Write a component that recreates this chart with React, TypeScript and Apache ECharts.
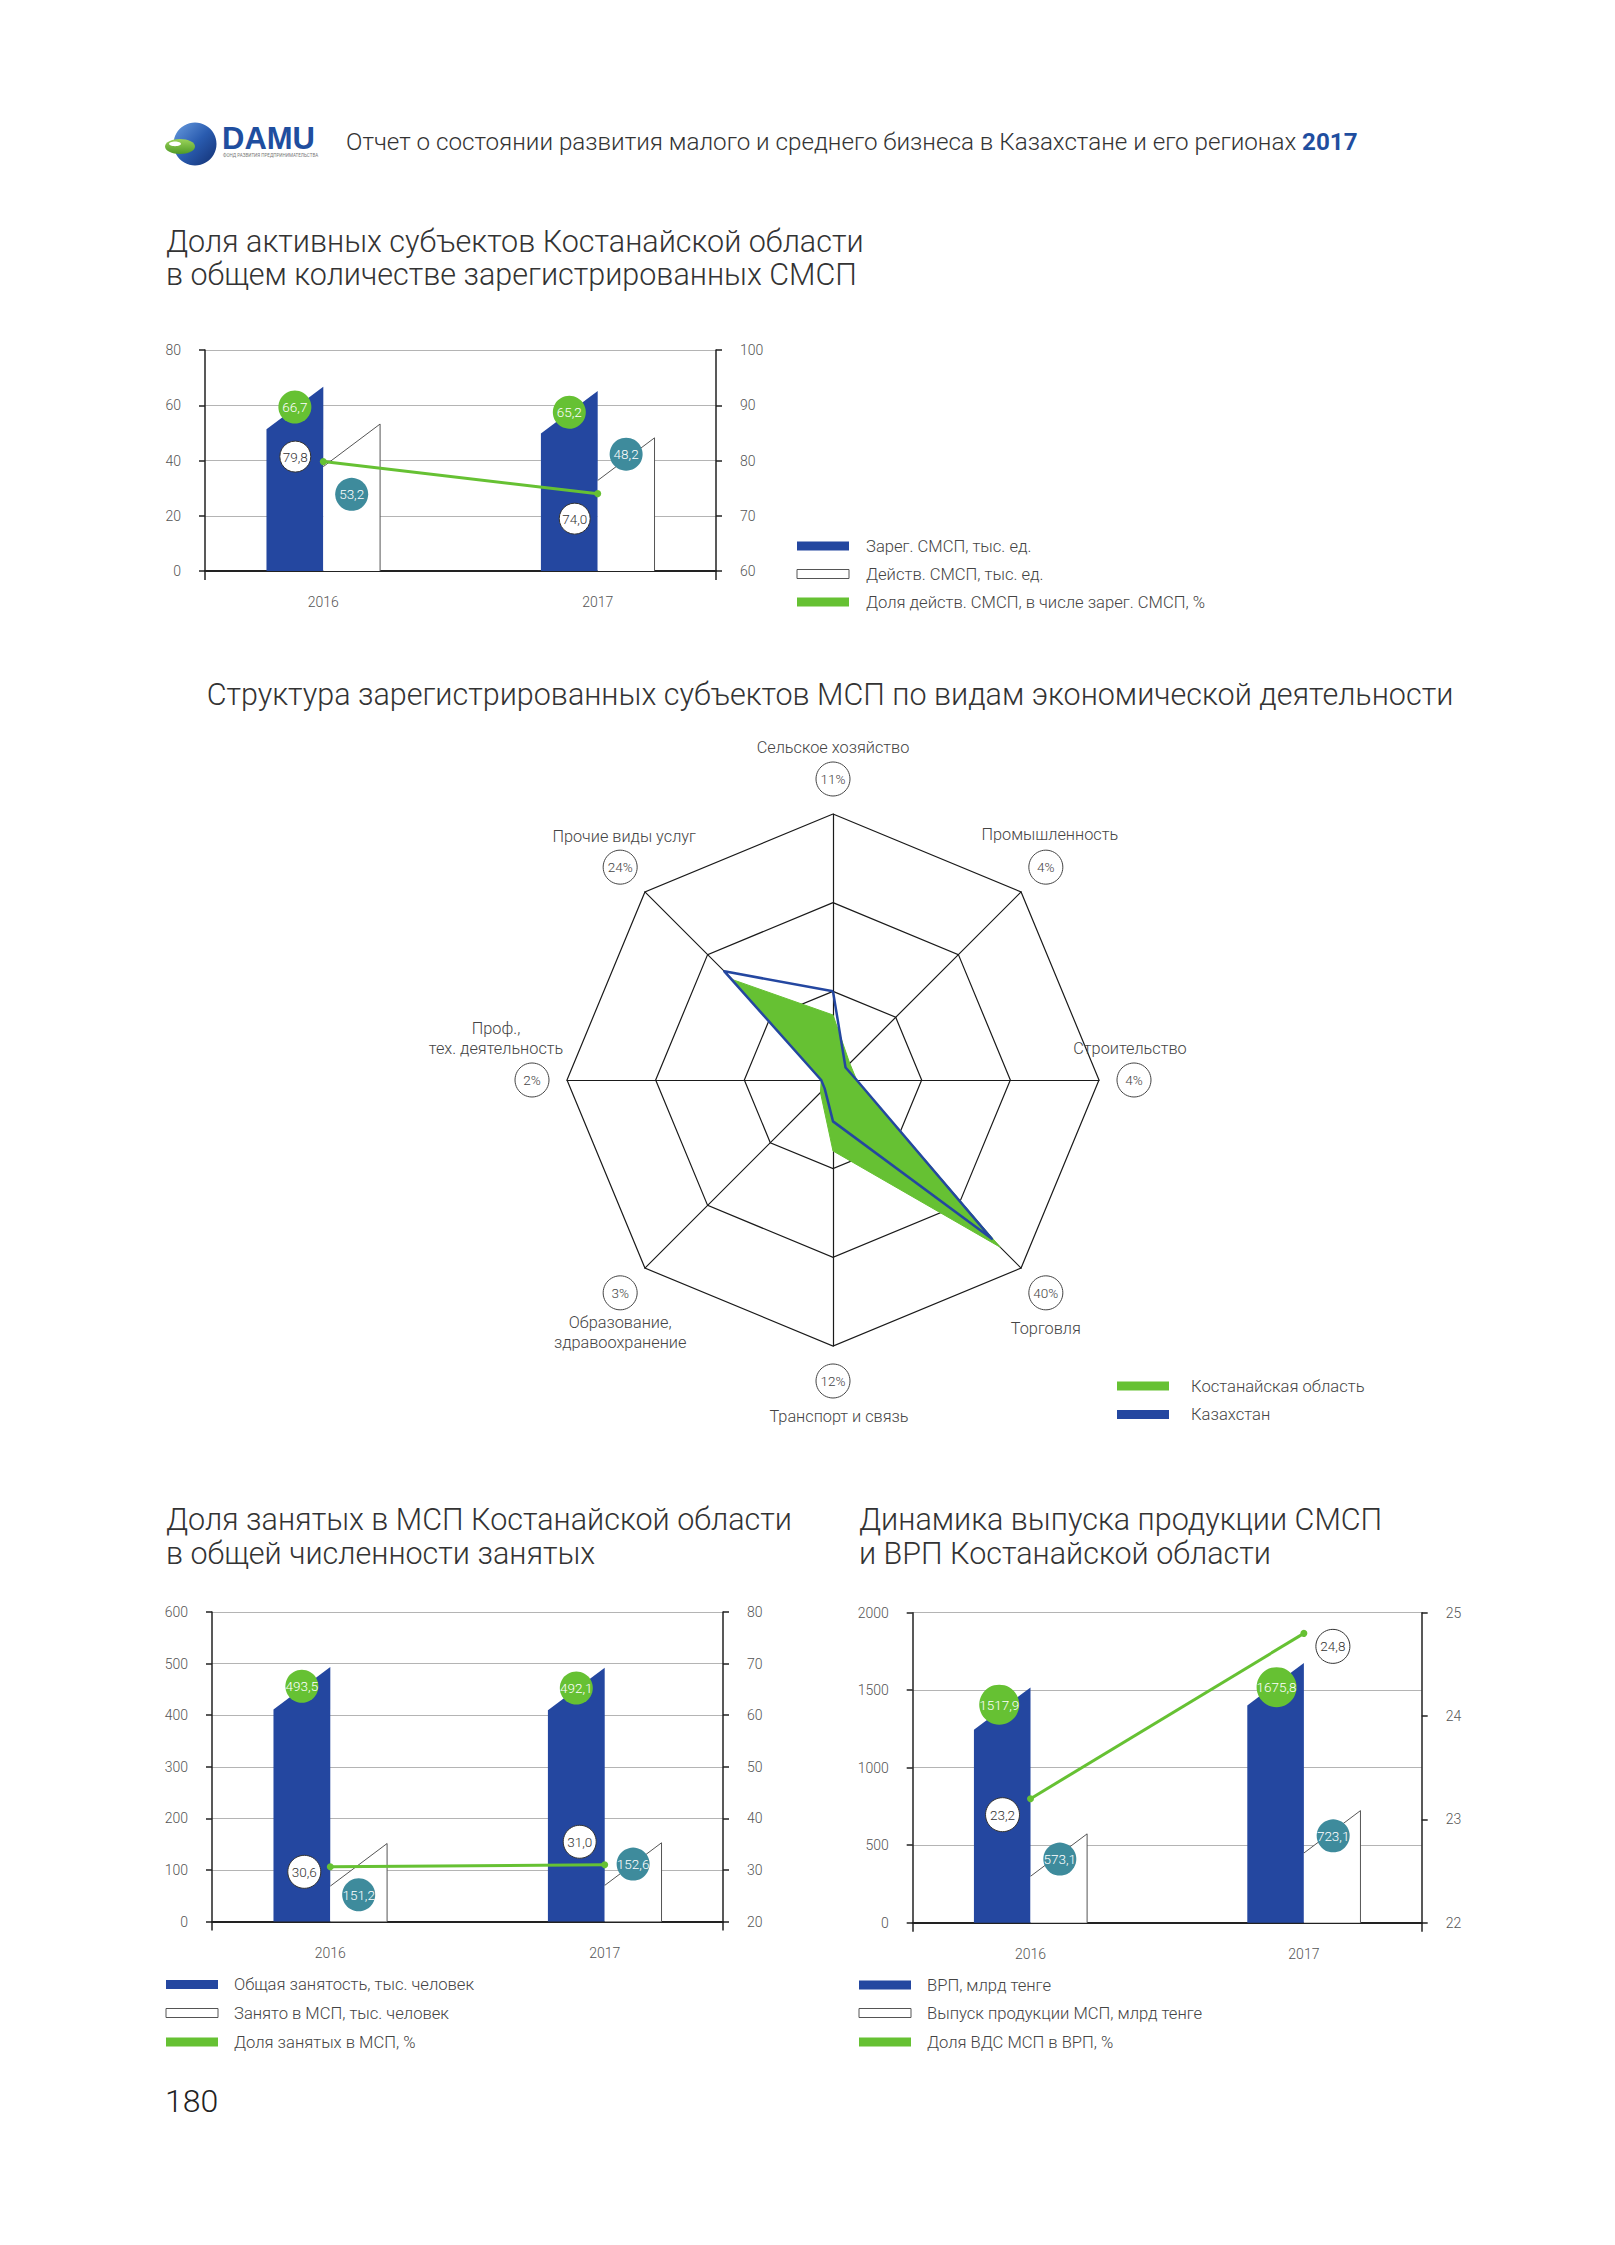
import React, { useEffect, useRef } from 'react';
import * as echarts from 'echarts';

// ---------- DATA ----------
const YEARS = ['2016', '2017'];

// Chart 1: Доля активных субъектов
const C1_REGISTERED = [66.7, 65.2]; // тыс. ед.
const C1_ACTIVE = [53.2, 48.2]; // тыс. ед.
const C1_SHARE = [79.8, 74.0]; // %
const C1_LEGEND = ['Зарег. СМСП, тыс. ед.', 'Действ. СМСП, тыс. ед.', 'Доля действ. СМСП, в числе зарег. СМСП, %'];

// Radar: структура по видам деятельности (clockwise from top)
const SECTORS = [
  'Сельское хозяйство',
  'Промышленность',
  'Строительство',
  'Торговля',
  'Транспорт и связь',
  'Образование,\nздравоохранение',
  'Проф.,\nтех. деятельность',
  'Прочие виды услуг',
];
const KOSTANAY = [11, 4, 4, 40, 12, 3, 2, 24];
const KAZAKHSTAN = [15, 3, 4, 38, 7, 2, 2, 26];
const RADAR_MAX = 45;
const RADAR_LEGEND = ['Костанайская область', 'Казахстан'];

// Chart 3: занятость
const C3_TOTAL = [493.5, 492.1];
const C3_SME = [151.2, 152.6];
const C3_SHARE = [30.6, 31.0];
const C3_LEGEND = ['Общая занятость, тыс. человек', 'Занято в МСП, тыс. человек', 'Доля занятых в МСП, %'];

// Chart 4: ВРП
const C4_GRP = [1517.9, 1675.8];
const C4_OUTPUT = [573.1, 723.1];
const C4_SHARE = [23.2, 24.8];
const C4_LEGEND = ['ВРП, млрд тенге', 'Выпуск продукции МСП, млрд тенге', 'Доля ВДС МСП в ВРП, %'];

// ---------- STYLE / LAYOUT ----------
const BLUE = '#2447a0';
const GREEN = '#66c133';
const TEAL = '#3e8b9c';
const GRID_GRAY = '#b4b4b4';
const AXIS_DARK = '#222222';
const TEXT = '#3a3a3a';
const FONT = 'Roboto';
const X_PAD = 0.431;
const BAR_FRAC = 0.207;
const SLANT = 0.75;
const TITLE_SIZE = 30.5;

// label offsets (px) relative to their anchors
const OFF = {
  c1: { top: [[0, -1], [0, 0]], white: [[0, 49], [0, -5]], line: [[-28, -5], [-23, 25]] },
  c3: { top: [[0, -2], [0, -1]], white: [[0, 30], [0, 0]], line: [[-26, 5], [-25, -23]] },
  c4: { top: [[-3, -4], [1, 3]], white: [[1, 4], [1, 4]], line: [[-28, 16], [29, 13]] },
};

const fmt = (v: number) => v.toFixed(1).replace('.', ',');

function barSeries(xi: number, yi: number, values: number[], side: 'left' | 'right') {
  return {
    type: 'custom',
    xAxisIndex: xi,
    yAxisIndex: yi,
    z: 2,
    encode: { x: 0, y: 1 },
    data: values.map((v, i) => [i, v]),
    renderItem: (params: any, api: any) => {
      const top = api.coord([api.value(0), api.value(1)]);
      const base = api.coord([api.value(0), 0]);
      const w = api.size([1, 0])[0] * BAR_FRAC;
      const s = w * SLANT;
      const cx = top[0];
      if (side === 'left') {
        return {
          type: 'polygon',
          shape: { points: [[cx - w, base[1]], [cx - w, top[1] + s], [cx, top[1]], [cx, base[1]]] },
          style: { fill: BLUE },
        };
      }
      return {
        type: 'group',
        children: [
          {
            type: 'polygon',
            shape: { points: [[cx, base[1]], [cx, top[1] + s], [cx + w, top[1]], [cx + w, base[1]]] },
            style: { fill: '#ffffff' },
          },
          {
            type: 'polyline',
            shape: { points: [[cx, top[1] + s], [cx + w, top[1]], [cx + w, base[1]]] },
            style: { stroke: '#555555', lineWidth: 1, fill: 'none' },
          },
        ],
      };
    },
  };
}

function labelSeries(
  xi: number,
  yi: number,
  values: number[],
  offsets: number[][],
  anchor: 'left' | 'right' | 'point',
  fill: string,
  color: string,
  r: number,
  stroke?: string
) {
  return {
    type: 'custom',
    xAxisIndex: xi,
    yAxisIndex: yi,
    z: 10,
    encode: { x: 0, y: 1 },
    data: values.map((v, i) => [i, v, offsets[i][0], offsets[i][1]]),
    renderItem: (params: any, api: any) => {
      const p = api.coord([api.value(0), api.value(1)]);
      const w = api.size([1, 0])[0] * BAR_FRAC;
      let ax = p[0];
      let ay = p[1];
      if (anchor === 'left') {
        ax -= w / 2;
        ay += (w * SLANT) / 2;
      } else if (anchor === 'right') {
        ax += w / 2;
        ay += (w * SLANT) / 2;
      }
      ax += api.value(2);
      ay += api.value(3);
      return {
        type: 'group',
        children: [
          {
            type: 'circle',
            shape: { cx: ax, cy: ay, r },
            style: { fill, stroke: stroke || 'none', lineWidth: 1 },
          },
          {
            type: 'text',
            style: {
              text: fmt(api.value(1)),
              x: ax,
              y: ay,
              fill: color,
              fontSize: 13.5,
              fontFamily: FONT,
              fontWeight: 300,
              align: 'center',
              verticalAlign: 'middle',
              textAlign: 'center',
              textVerticalAlign: 'middle',
            },
          },
        ],
      };
    },
  };
}

function lineSeries(xi: number, yi: number, values: number[]) {
  return {
    type: 'line',
    xAxisIndex: xi,
    yAxisIndex: yi,
    z: 5,
    data: values.map((v, i) => [i, v]),
    symbol: 'circle',
    symbolSize: 7,
    lineStyle: { color: GREEN, width: 3 },
    itemStyle: { color: GREEN },
  };
}

const axisLabelBase = { color: '#555', fontSize: 14, fontFamily: FONT, fontWeight: 300 };

function xAxisFor(g: number) {
  return {
    type: 'value',
    gridIndex: g,
    min: -X_PAD,
    max: 1 + X_PAD,
    splitLine: { show: false },
    axisLine: { show: true, onZero: false, lineStyle: { color: AXIS_DARK, width: 2 } },
    axisTick: { show: true, customValues: [-X_PAD, 1 + X_PAD], length: 9, lineStyle: { color: AXIS_DARK, width: 1.5 } },
    axisLabel: { ...axisLabelBase, customValues: [0, 1], margin: 24, formatter: (v: number) => YEARS[Math.round(v)] },
  };
}

function yAxisFor(g: number, pos: 'left' | 'right', min: number, max: number, interval: number) {
  return {
    type: 'value',
    gridIndex: g,
    position: pos,
    min,
    max,
    interval,
    axisLine: { show: true, onZero: false, lineStyle: { color: AXIS_DARK, width: 1.5 } },
    axisTick: { show: true, length: 6, lineStyle: { color: AXIS_DARK, width: 1.5 } },
    splitLine: pos === 'left' ? { show: true, lineStyle: { color: GRID_GRAY, width: 1.2 } } : { show: false },
    axisLabel: { ...axisLabelBase, margin: 24, formatter: (v: number) => String(v) },
  };
}

function txt(text: string, x: number, y: number, size: number, opts: any = {}) {
  return {
    type: 'text',
    x,
    y,
    z: 20,
    style: {
      text,
      fontSize: size,
      fontFamily: FONT,
      fontWeight: 300,
      fill: TEXT,
      textAlign: 'left',
      textVerticalAlign: 'middle',
      align: 'left',
      verticalAlign: 'middle',
      ...opts,
    },
  };
}

function legend(x: number, ys: number[], labels: string[], textX: number, kinds: string[]) {
  const out: any[] = [];
  labels.forEach((l, i) => {
    const k = kinds[i];
    out.push({
      type: 'rect',
      z: 20,
      shape: { x, y: ys[i] - 4.5, width: 52, height: 9 },
      style: k === 'white' ? { fill: '#fff', stroke: '#555', lineWidth: 1 } : { fill: k === 'blue' ? BLUE : GREEN },
    });
    out.push(txt(l, textX, ys[i], 16.6, { fill: '#444' }));
  });
  return out;
}

const EC_ORDER = [0, 7, 6, 5, 4, 3, 2, 1];
const RADAR_C = [833, 1080];
const RADAR_R = 266;
const RADAR_LABEL_R = 301;
const NAME_OFF = [[0, -32], [4, -33], [-4, -32], [0, 36], [6, 35], [0, 40], [-36, -42], [4, -31]];

function radarLabels() {
  const out: any[] = [];
  SECTORS.forEach((name, i) => {
    const a = ((90 - 45 * i) * Math.PI) / 180;
    const cx = RADAR_C[0] + RADAR_LABEL_R * Math.cos(a);
    const cy = RADAR_C[1] - RADAR_LABEL_R * Math.sin(a);
    out.push({
      type: 'circle',
      z: 20,
      shape: { cx, cy, r: 17 },
      style: { fill: '#fff', stroke: '#444', lineWidth: 1 },
    });
    out.push(txt(KOSTANAY[i] + '%', cx, cy, 13.5, { textAlign: 'center', align: 'center', fill: '#444' }));
    out.push(
      txt(name, cx + NAME_OFF[i][0], cy + NAME_OFF[i][1], 16.3, {
        textAlign: 'center',
        align: 'center',
        lineHeight: 20,
        fill: '#444',
      })
    );
  });
  return out;
}

function logo() {
  return [
    {
      type: 'circle',
      z: 20,
      shape: { cx: 195, cy: 144, r: 21.5 },
      style: {
        fill: new echarts.graphic.LinearGradient(0, 0, 1, 1, [
          { offset: 0, color: '#6b9ee0' },
          { offset: 0.5, color: '#2a5cb0' },
          { offset: 1, color: '#122f72' },
        ]),
      },
    },
    {
      type: 'ellipse',
      z: 21,
      shape: { cx: 180, cy: 146.5, rx: 15, ry: 7.5 },
      style: {
        fill: new echarts.graphic.LinearGradient(0, 0, 0, 1, [
          { offset: 0, color: '#9bd35a' },
          { offset: 1, color: '#4f9a26' },
        ]),
      },
    },
    { type: 'ellipse', z: 22, shape: { cx: 175, cy: 143.8, rx: 6, ry: 2.4 }, style: { fill: '#ffffff' } },
    txt('DAMU', 222, 138, 31, { fontWeight: 'bold', fill: '#1f4e9f', fontFamily: 'Liberation Sans' }),
    txt('ФОНД РАЗВИТИЯ ПРЕДПРИНИМАТЕЛЬСТВА', 223, 155, 4.5, { fill: '#777', fontWeight: 400 }),
  ];
}

function buildOption() {
  const graphic: any[] = [
    ...logo(),
    {
      type: 'text',
      x: 346,
      y: 142,
      z: 20,
      style: {
        text: '{a|Отчет о состоянии развития малого и среднего бизнеса в Казахстане и его регионах\u00a0}{b|2017}',
        textVerticalAlign: 'middle',
        verticalAlign: 'middle',
        rich: {
          a: { fontSize: 24.2, fontFamily: FONT, fontWeight: 300, fill: '#333', color: '#333' },
          b: { fontSize: 24.2, fontFamily: FONT, fontWeight: 'bold', fill: '#1f4e9f', color: '#1f4e9f' },
        },
      },
    },
    txt('Доля активных субъектов Костанайской области', 166, 241, TITLE_SIZE, { fill: '#333' }),
    txt('в общем количестве зарегистрированных СМСП', 166, 274, TITLE_SIZE, { fill: '#333' }),
    txt('Структура зарегистрированных субъектов МСП по видам экономической деятельности', 830, 694, TITLE_SIZE, {
      fill: '#333',
      textAlign: 'center',
      align: 'center',
    }),
    txt('Доля занятых в МСП Костанайской области', 166, 1519, TITLE_SIZE, { fill: '#333' }),
    txt('в общей численности занятых', 166, 1553, TITLE_SIZE, { fill: '#333' }),
    txt('Динамика выпуска продукции СМСП', 859, 1519, TITLE_SIZE, { fill: '#333' }),
    txt('и ВРП Костанайской области', 859, 1553, TITLE_SIZE, { fill: '#333' }),
    txt('180', 165, 2101, 32, { fill: '#222' }),
    ...legend(797, [546, 574, 602], C1_LEGEND, 866, ['blue', 'white', 'green']),
    ...legend(1117, [1386, 1414.5], RADAR_LEGEND, 1191, ['green', 'blue']),
    ...legend(166, [1984.5, 2013, 2042], C3_LEGEND, 234, ['blue', 'white', 'green']),
    ...legend(859, [1985, 2013, 2042], C4_LEGEND, 927, ['blue', 'white', 'green']),
    ...radarLabels(),
  ];

  return {
    animation: false,
    backgroundColor: '#ffffff',
    textStyle: { fontFamily: FONT },
    grid: [
      { left: 205, top: 350, width: 511, height: 221, outerBoundsMode: 'none' },
      { left: 212, top: 1612, width: 511, height: 309.5, outerBoundsMode: 'none' },
      { left: 912.7, top: 1612.7, width: 509, height: 310, outerBoundsMode: 'none' },
    ],
    xAxis: [xAxisFor(0), xAxisFor(1), xAxisFor(2)],
    yAxis: [
      yAxisFor(0, 'left', 0, 80, 20),
      yAxisFor(0, 'right', 60, 100, 10),
      yAxisFor(1, 'left', 0, 600, 100),
      yAxisFor(1, 'right', 20, 80, 10),
      yAxisFor(2, 'left', 0, 2000, 500),
      yAxisFor(2, 'right', 22, 25, 1),
    ],
    radar: {
      center: RADAR_C,
      radius: RADAR_R,
      startAngle: 90,
      splitNumber: 3,
      shape: 'polygon',
      indicator: EC_ORDER.map((i) => ({ name: SECTORS[i], max: RADAR_MAX })),
      axisName: { show: false },
      axisLine: { lineStyle: { color: '#1a1a1a', width: 1.2 } },
      splitLine: { lineStyle: { color: '#1a1a1a', width: 1.2 } },
      splitArea: { show: false },
    },
    series: [
      // chart 1
      barSeries(0, 0, C1_REGISTERED, 'left'),
      barSeries(0, 0, C1_ACTIVE, 'right'),
      lineSeries(0, 1, C1_SHARE),
      labelSeries(0, 0, C1_REGISTERED, OFF.c1.top, 'left', GREEN, '#fff', 16.5),
      labelSeries(0, 0, C1_ACTIVE, OFF.c1.white, 'right', TEAL, '#fff', 16.5),
      labelSeries(0, 1, C1_SHARE, OFF.c1.line, 'point', '#fff', '#333', 15.5, '#333'),
      // radar
      {
        type: 'radar',
        symbol: 'none',
        z: 3,
        data: [
          {
            name: RADAR_LEGEND[0],
            value: EC_ORDER.map((i) => KOSTANAY[i]),
            lineStyle: { color: GREEN, width: 1 },
            areaStyle: { color: GREEN, opacity: 1 },
          },
          {
            name: RADAR_LEGEND[1],
            value: EC_ORDER.map((i) => KAZAKHSTAN[i]),
            lineStyle: { color: BLUE, width: 2.5 },
          },
        ],
      },
      // chart 3
      barSeries(1, 2, C3_TOTAL, 'left'),
      barSeries(1, 2, C3_SME, 'right'),
      lineSeries(1, 3, C3_SHARE),
      labelSeries(1, 2, C3_TOTAL, OFF.c3.top, 'left', GREEN, '#fff', 16.5),
      labelSeries(1, 2, C3_SME, OFF.c3.white, 'right', TEAL, '#fff', 16.5),
      labelSeries(1, 3, C3_SHARE, OFF.c3.line, 'point', '#fff', '#333', 16.5, '#333'),
      // chart 4
      barSeries(2, 4, C4_GRP, 'left'),
      barSeries(2, 4, C4_OUTPUT, 'right'),
      lineSeries(2, 5, C4_SHARE),
      labelSeries(2, 4, C4_GRP, OFF.c4.top, 'left', GREEN, '#fff', 20),
      labelSeries(2, 4, C4_OUTPUT, OFF.c4.white, 'right', TEAL, '#fff', 16.5),
      labelSeries(2, 5, C4_SHARE, OFF.c4.line, 'point', '#fff', '#333', 17, '#333'),
    ],
    graphic: { elements: graphic },
  };
}

export default function App() {
  const ref = useRef<HTMLDivElement>(null);
  useEffect(() => {
    if (!ref.current) return;
    const chart = echarts.init(ref.current, undefined, { renderer: 'svg' });
    chart.setOption(buildOption() as any);
    return () => chart.dispose();
  }, []);
  return (
    <div
      ref={ref}
      style={{ position: 'absolute', left: 0, top: 0, width: 1615, height: 2245, background: '#fff' }}
    />
  );
}
